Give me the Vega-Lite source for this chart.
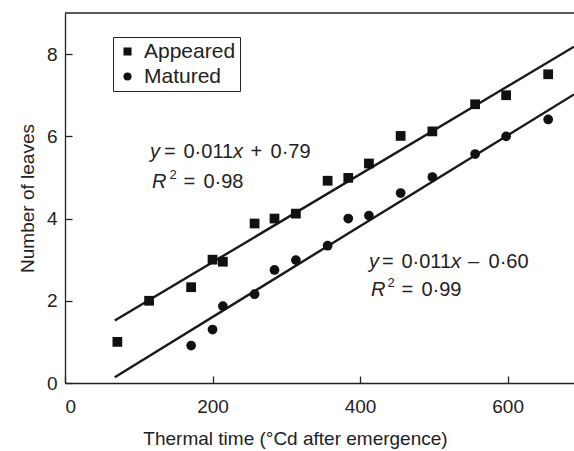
{
  "$schema": "https://vega.github.io/schema/vega-lite/v6.json",
  "width": 509,
  "height": 370,
  "autosize": {"type": "none"},
  "padding": {"left": 65, "top": 13, "right": 0, "bottom": 68},
  "background": "white",
  "config": {
    "font": "Liberation Sans",
    "view": {"stroke": null},
    "axis": {
      "domainColor": "#222",
      "domainWidth": 1.3,
      "tickColor": "#222",
      "tickWidth": 1.3,
      "tickSize": -7,
      "labelFontSize": 19,
      "labelColor": "#222",
      "titleFontSize": 19,
      "titleFontWeight": "normal",
      "titleColor": "#222",
      "grid": false
    }
  },
  "datasets": {
    "points": [
      {"series": "Appeared", "time": 71, "leaves": 1.0},
      {"series": "Appeared", "time": 114, "leaves": 2.0},
      {"series": "Appeared", "time": 171, "leaves": 2.33},
      {"series": "Appeared", "time": 200, "leaves": 3.0},
      {"series": "Appeared", "time": 214, "leaves": 2.95},
      {"series": "Appeared", "time": 257, "leaves": 3.88},
      {"series": "Appeared", "time": 284, "leaves": 4.0},
      {"series": "Appeared", "time": 313, "leaves": 4.12},
      {"series": "Appeared", "time": 356, "leaves": 4.92},
      {"series": "Appeared", "time": 384, "leaves": 4.99},
      {"series": "Appeared", "time": 412, "leaves": 5.34},
      {"series": "Appeared", "time": 455, "leaves": 6.01},
      {"series": "Appeared", "time": 498, "leaves": 6.12},
      {"series": "Appeared", "time": 556, "leaves": 6.78},
      {"series": "Appeared", "time": 598, "leaves": 7.0},
      {"series": "Appeared", "time": 655, "leaves": 7.51},
      {"series": "Matured", "time": 171, "leaves": 0.91},
      {"series": "Matured", "time": 200, "leaves": 1.3},
      {"series": "Matured", "time": 214, "leaves": 1.87},
      {"series": "Matured", "time": 257, "leaves": 2.16},
      {"series": "Matured", "time": 284, "leaves": 2.75},
      {"series": "Matured", "time": 313, "leaves": 2.99},
      {"series": "Matured", "time": 356, "leaves": 3.34},
      {"series": "Matured", "time": 384, "leaves": 4.0},
      {"series": "Matured", "time": 412, "leaves": 4.07},
      {"series": "Matured", "time": 455, "leaves": 4.62},
      {"series": "Matured", "time": 498, "leaves": 5.01},
      {"series": "Matured", "time": 556, "leaves": 5.57},
      {"series": "Matured", "time": 598, "leaves": 6.0},
      {"series": "Matured", "time": 655, "leaves": 6.41}
    ],
    "fits": [
      {"series": "Appeared", "time": 67.5, "leaves": 1.52},
      {"series": "Appeared", "time": 690, "leaves": 8.18},
      {"series": "Matured", "time": 67.5, "leaves": 0.14},
      {"series": "Matured", "time": 690, "leaves": 7.02}
    ],
    "labels": [
      {"x": 115.2, "y": 5.62, "t": "y", "k": "i"},
      {"x": 134.2, "y": 5.62, "t": "=", "k": "n"},
      {"x": 160.6, "y": 5.62, "t": "0·011", "k": "n"},
      {"x": 227.7, "y": 5.62, "t": "x", "k": "i"},
      {"x": 251.4, "y": 5.62, "t": "+", "k": "n"},
      {"x": 278.6, "y": 5.62, "t": "0·79", "k": "n"},
      {"x": 117.9, "y": 4.89, "t": "R", "k": "i"},
      {"x": 141.7, "y": 4.89, "t": "2", "k": "s"},
      {"x": 160.6, "y": 4.89, "t": "=", "k": "n"},
      {"x": 187.7, "y": 4.89, "t": "0·98", "k": "n"},
      {"x": 412.1, "y": 2.95, "t": "y", "k": "i"},
      {"x": 429.7, "y": 2.95, "t": "=", "k": "n"},
      {"x": 456.1, "y": 2.95, "t": "0·011", "k": "n"},
      {"x": 523.3, "y": 2.95, "t": "x", "k": "i"},
      {"x": 546.3, "y": 2.95, "t": "–", "k": "n"},
      {"x": 574.1, "y": 2.95, "t": "0·60", "k": "n"},
      {"x": 414.8, "y": 2.26, "t": "R", "k": "i"},
      {"x": 437.2, "y": 2.26, "t": "2", "k": "s"},
      {"x": 456.1, "y": 2.26, "t": "=", "k": "n"},
      {"x": 483.2, "y": 2.26, "t": "0·99", "k": "n"}
    ]
  },
  "layer": [
    {
      "data": {"values": [{}]},
      "mark": {"type": "rule", "color": "#222", "strokeWidth": 1.3},
      "encoding": {"y": {"datum": 9, "type": "quantitative"}}
    },
    {
      "data": {"name": "fits"},
      "mark": {"type": "line", "color": "#1a1a1a", "strokeWidth": 2.4, "clip": true},
      "encoding": {
        "x": {"field": "time", "type": "quantitative"},
        "y": {"field": "leaves", "type": "quantitative"},
        "detail": {"field": "series"}
      }
    },
    {
      "data": {"name": "points"},
      "mark": {"type": "point", "filled": true, "color": "#111", "opacity": 1, "size": 95},
      "encoding": {
        "x": {
          "field": "time",
          "type": "quantitative",
          "scale": {"domain": [0, 690], "nice": false, "zero": false},
          "axis": {
            "values": [0, 200, 400, 600],
            "labelPadding": 21,
            "title": "Thermal time (°Cd after emergence)",
            "titleX": 230,
            "titleY": 55,
            "titleBaseline": "middle",
            "titleAlign": "center"
          }
        },
        "y": {
          "field": "leaves",
          "type": "quantitative",
          "scale": {"domain": [0, 9], "nice": false, "zero": false},
          "axis": {
            "values": [0, 2, 4, 6, 8],
            "labelPadding": 15,
            "title": "Number of leaves",
            "titleX": -38,
            "titleY": 185,
            "titleAngle": -90,
            "titleBaseline": "middle",
            "titleAlign": "center"
          }
        },
        "shape": {
          "field": "series",
          "type": "nominal",
          "scale": {"domain": ["Appeared", "Matured"], "range": ["square", "circle"]},
          "legend": {
            "title": null,
            "orient": "none",
            "legendX": 48,
            "legendY": 24,
            "strokeColor": "#222",
            "fillColor": "white",
            "padding": 4,
            "labelFontSize": 21,
            "labelColor": "#222",
            "symbolSize": 65,
            "labelOffset": 6,
            "rowPadding": 3,
            "symbolFillColor": "#111",
            "symbolStrokeWidth": 0
          }
        }
      }
    },
    {
      "data": {"name": "labels"},
      "transform": [{"filter": "datum.k === 'n'"}],
      "mark": {"type": "text", "align": "left", "baseline": "middle", "fontSize": 20, "color": "#222"},
      "encoding": {
        "x": {"field": "x", "type": "quantitative"},
        "y": {"field": "y", "type": "quantitative"},
        "text": {"field": "t"}
      }
    },
    {
      "data": {"name": "labels"},
      "transform": [{"filter": "datum.k === 'i'"}],
      "mark": {"type": "text", "align": "left", "baseline": "middle", "fontSize": 20, "fontStyle": "italic", "color": "#222"},
      "encoding": {
        "x": {"field": "x", "type": "quantitative"},
        "y": {"field": "y", "type": "quantitative"},
        "text": {"field": "t"}
      }
    },
    {
      "data": {"name": "labels"},
      "transform": [{"filter": "datum.k === 's'"}],
      "mark": {"type": "text", "align": "left", "baseline": "middle", "fontSize": 13, "dy": -7, "color": "#222"},
      "encoding": {
        "x": {"field": "x", "type": "quantitative"},
        "y": {"field": "y", "type": "quantitative"},
        "text": {"field": "t"}
      }
    }
  ]
}
